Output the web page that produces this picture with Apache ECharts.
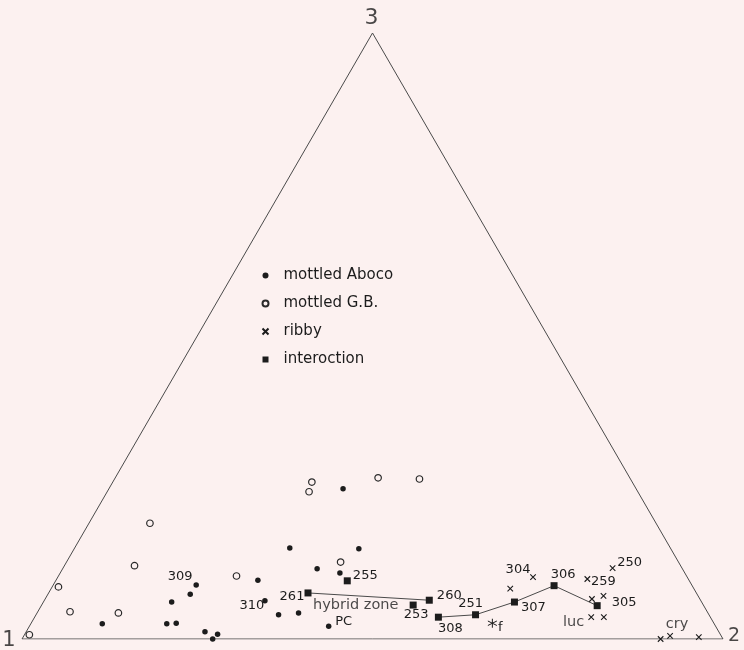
<!DOCTYPE html>
<html>
<head>
<meta charset="utf-8">
<script src="https://cdn.jsdelivr.net/npm/echarts@6/dist/echarts.min.js"></script>
<style>
  html, body { margin: 0; padding: 0; background: #fcf1f0; }
  #chart { width: 744px; height: 650px; }
</style>
</head>
<body>
<div id="chart"></div>
<script>
// Ternary compositions, in percent of end-members 2 and 3 (end-member 1 is the remainder).

// mottled Aboco
const abocoP2 = [20.4, 20.3, 18.3, 10.2, 19.4, 20.7, 25.5, 27.5, 27.2, 33.4, 30.7, 40.6, 36.3, 39.9, 28.8, 31.5, 34.6, 37.3, 42.7];
const abocoP3 = [8.9, 7.4, 6.1, 2.5, 2.5, 2.6, 1.2, 0.8, 0.0, 24.8, 15.0, 14.9, 11.6, 10.9, 9.7, 6.3, 4.0, 4.3, 2.1];
const abocoTags = ['309', '', '', '', '', '', '', '', '', '', '', '', '', '', '', '310', '', '', 'PC'];

// mottled G.B.
const gbP2 = [8.7, 10.0, 0.9, 4.6, 11.6, 0.7, 25.4, 28.4, 28.8, 39.1, 37.5, 43.5];
const gbP3 = [19.1, 12.1, 8.6, 4.5, 4.3, 0.7, 10.4, 25.9, 24.3, 12.7, 26.6, 26.4];

// ribby
const ribbyP2 = [67.8, 65.5, 78.4, 75.7, 78.0, 79.4, 79.4, 81.2, 91.1, 92.2, 96.4];
const ribbyP3 = [10.2, 8.3, 11.7, 9.9, 6.6, 7.1, 3.6, 3.6, 0.0, 0.5, 0.3];
const ribbyTags = ['304', '', '250', '259', '', '', '', '', '', '', ''];

// interaction
const interP2 = [41.6, 37.0, 54.9, 53.0, 57.6, 62.7, 67.2, 71.5, 79.3];
const interP3 = [9.6, 7.6, 6.4, 5.6, 3.6, 4.0, 6.1, 8.8, 5.5];
const interTags = ['255', '261', '260', '253', '308', '251', '307', '306', '305'];

// connected interaction samples
const hybridLinkA = ['261', '260'];
const hybridLinkB = ['308', '251', '307', '306', '305'];

// single sample f
const fP2 = [65.8];
const fP3 = [2.6];

// written annotations inside the diagram
const noteText = ['hybrid zone', 'luc', 'cry'];
const noteP2 = [44.8, 77.3, 92.2];
const noteP3 = [5.6, 2.8, 2.5];

// end-members
const vertexNames = ['1', '2', '3'];
const vertexP2 = [0, 100, 0];
const vertexP3 = [0, 0, 100];

// ---- drawing ----
const H = Math.sqrt(3) / 2;
function toXY(p2, p3) { return [(p2 + p3 / 2) / 100, (p3 / 100) * H]; }

const INK = '#1c1c1c';
const FONT = '"DejaVu Sans", "Liberation Sans", sans-serif';

// label placement (offset of label centre from its mark, in px)
const tagOffset = {
  '309': [-16, -8], '310': [-13, 5], 'PC': [15, -5],
  '255': [18, -5], '261': [-16, 4], '260': [20, -5], '253': [3, 10],
  '308': [12, 11], '251': [-5, -11], '307': [19, 6], '306': [9, -11], '305': [27, -3],
  '304': [-15, -8], '259': [16, 3], '250': [17, -5]
};
const vertexOffset = { '1': [-13, 2], '2': [11, -3], '3': [-1, -15] };
const vertexFont = { '1': 21, '2': 19, '3': 22 };

function pts(p2, p3, tags) {
  return p2.map((v, i) => {
    const tag = tags ? tags[i] : '';
    const item = { value: toXY(v, p3[i]), name: tag };
    if (tag) {
      item.label = {
        show: true, formatter: tag, position: 'inside',
        offset: tagOffset[tag] || [0, 0]
      };
    }
    return item;
  });
}

const tagLabel = { color: INK, fontFamily: FONT, fontSize: 13 };

function linkData(names) {
  return names.map(n => {
    const i = interTags.indexOf(n);
    return toXY(interP2[i], interP3[i]);
  });
}

const frame = vertexNames.map((n, i) => toXY(vertexP2[i], vertexP3[i]));
frame.push(toXY(vertexP2[0], vertexP3[0]));

const vertexMarks = vertexNames.map((n, i) => ({
  value: toXY(vertexP2[i], vertexP3[i]),
  label: {
    show: true, formatter: n, position: 'inside', offset: vertexOffset[n],
    fontSize: vertexFont[n], color: INK, fontFamily: FONT
  }
}));

const XPATH = 'path://M0,0L10,10M10,0L0,10';
const STAR = 'path://M0,-5L0,5M-4.33,-2.5L4.33,2.5M-4.33,2.5L4.33,-2.5';
const SQUARE = 'path://M0,0H10V10H0Z';

const chart = echarts.init(document.getElementById('chart'), null, { renderer: 'canvas' });
chart.setOption({
  backgroundColor: '#fcf1f0',
  animation: false,
  grid: { left: 22, right: 21, top: 33, bottom: 11 },
  xAxis: { type: 'value', min: 0, max: 1, show: false },
  yAxis: { type: 'value', min: 0, max: H, show: false },
  legend: {
    orient: 'vertical', left: 260, top: 268, padding: 0,
    itemWidth: 26, itemHeight: 6, itemGap: 13,
    textStyle: { color: INK, fontFamily: FONT, fontSize: 15, lineHeight: 14 },
    data: [
      { name: 'mottled Aboco', icon: 'circle' },
      { name: 'mottled G.B.', icon: 'circle' },
      { name: 'ribby', icon: XPATH },
      { name: 'interoction', icon: SQUARE }
    ]
  },
  series: [
    {
      type: 'line', data: frame, symbol: 'none', silent: true,
      lineStyle: { color: '#4a4a4a', width: 1 }, z: 1
    },
    {
      type: 'scatter', data: vertexMarks, symbolSize: 0, silent: true, z: 1
    },
    {
      type: 'line', data: linkData(hybridLinkA), symbol: 'none', silent: true,
      lineStyle: { color: '#4a4a4a', width: 1 }, z: 2
    },
    {
      type: 'line', data: linkData(hybridLinkB), symbol: 'none', silent: true,
      lineStyle: { color: '#4a4a4a', width: 1 }, z: 2
    },
    {
      name: 'mottled Aboco', type: 'scatter', symbol: 'circle', symbolSize: 5.5,
      itemStyle: { color: INK, opacity: 1 }, label: tagLabel,
      data: pts(abocoP2, abocoP3, abocoTags), z: 5
    },
    {
      name: 'mottled G.B.', type: 'scatter', symbol: 'circle', symbolSize: 6.5,
      itemStyle: { color: 'none', borderColor: '#2a2a2a', borderWidth: 1.2, opacity: 1 },
      data: pts(gbP2, gbP3, null), z: 5
    },
    {
      name: 'ribby', type: 'scatter', symbol: XPATH, symbolSize: [5.5, 5.5],
      itemStyle: { color: 'none', borderColor: INK, borderWidth: 1.1, opacity: 1 }, label: tagLabel,
      data: pts(ribbyP2, ribbyP3, ribbyTags), z: 5
    },
    {
      name: 'interoction', type: 'scatter', symbol: 'rect', symbolSize: 7,
      itemStyle: { color: INK, opacity: 1 }, label: tagLabel,
      data: pts(interP2, interP3, interTags), z: 6
    },
    {
      type: 'scatter', symbol: STAR, symbolSize: 9, silent: true,
      itemStyle: { color: 'none', borderColor: INK, borderWidth: 1, opacity: 1 },
      label: { show: true, formatter: 'f', position: 'inside', offset: [8, 4], color: INK, fontFamily: FONT, fontSize: 13 },
      data: fP2.map((v, i) => toXY(v, fP3[i])), z: 5
    },
    {
      type: 'scatter', symbolSize: 0, silent: true,
      label: { show: true, position: 'inside', formatter: p => p.name, color: INK, fontFamily: FONT, fontSize: 14.5 },
      data: noteText.map((t, i) => ({ name: t, value: toXY(noteP2[i], noteP3[i]) })), z: 4
    }
  ]
});
</script>
</body>
</html>
